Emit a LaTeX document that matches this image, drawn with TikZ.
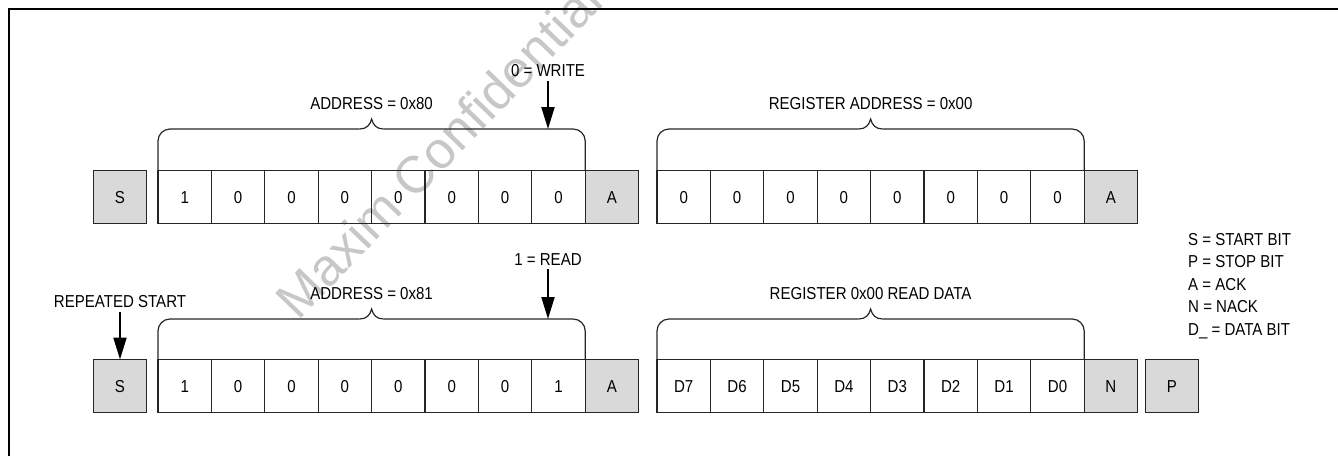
\documentclass[tikz,border=0pt]{standalone}
\usepackage{fontspec}
\setmainfont{Liberation Sans}[FakeStretch=0.87]
\newfontfamily\wmfont{Liberation Sans}
\usetikzlibrary{arrows.meta}
\newcommand{\grpbrace}[4]{%
  \pgfmathsetmacro{\xm}{(#1+#2)/2}%
  \draw[brace, rounded corners=12pt] (#1,#4) -- (#1,#3) -- ({\xm-12},#3);
  \draw[brace, rounded corners=12pt] (#2,#4) -- (#2,#3) -- ({\xm+12},#3);
  \draw[brace] ({\xm-12},#3) .. controls ({\xm-5},#3) and ({\xm-1.5},{#3-4}) .. (\xm,{#3-10})
     .. controls ({\xm+1.5},{#3-4}) and ({\xm+5},#3) .. ({\xm+12},#3);
}
\begin{document}
\begin{tikzpicture}[x=1pt,y=-1pt,
  font=\fontsize{17.3}{20}\selectfont,
  bitbox/.style={draw=black!85, line width=1.3pt, minimum width=53.4pt, minimum height=53pt, inner sep=0pt, outer sep=0pt, text height=12.4pt, text depth=0pt},
  graybox/.style={bitbox, fill=black!15},
  brace/.style={draw=black!85, line width=1.2pt},
  marker/.style={line width=2pt, -{Triangle[length=22pt,width=13pt]}},
  lbl/.style={anchor=base, inner sep=0pt},
  legend/.style={anchor=base west, inner sep=0pt},
]
\useasboundingbox (0,0) rectangle (1338,456);
% watermark
\node[anchor=base west, rotate=46, text=black!22, font=\wmfont\fontsize{52}{54}\selectfont, inner sep=0pt] (wm) at (298,322) {Maxim Confidential};
% frame
\draw[line width=2pt] (9,456) -- (9,9) -- (1338,9);
% row 1
\node[graybox] (s1) at (120,197) {S};
\foreach \v [count=\i from 0] in {1,0,0,0,0,0,0,0}
  \node[bitbox] (a\i) at ({158+53.4*(\i+0.5)},197) {\v};
\node[graybox] (ack1) at ({158+53.4*8.5},197) {A};
\foreach \v [count=\i from 0] in {0,0,0,0,0,0,0,0}
  \node[bitbox] (r\i) at ({657+53.4*(\i+0.5)},197) {\v};
\node[graybox] (ack2) at ({657+53.4*8.5},197) {A};
% row 2
\node[graybox] (s2) at (120,386) {S};
\foreach \v [count=\i from 0] in {1,0,0,0,0,0,0,1}
  \node[bitbox] (b\i) at ({158+53.4*(\i+0.5)},386) {\v};
\node[graybox] (ack3) at ({158+53.4*8.5},386) {A};
\foreach \v [count=\i from 0] in {D7,D6,D5,D4,D3,D2,D1,D0}
  \node[bitbox] (d\i) at ({657+53.4*(\i+0.5)},386) {\v};
\node[graybox] (nack) at ({657+53.4*8.5},386) {N};
\node[graybox] (stop) at (1172,386) {P};
% braces
\grpbrace{158}{585.2}{129}{170.5}
\grpbrace{657}{1084.2}{129}{170.5}
\grpbrace{158}{585.2}{319}{359.5}
\grpbrace{657}{1084.2}{319}{359.5}
% brace labels
\node[lbl] (l1) at (371.6,109.5) {ADDRESS = 0x80};
\node[lbl] (l2) at (870.6,109.5) {REGISTER ADDRESS = 0x00};
\node[lbl] (l3) at (371.6,299.5) {ADDRESS = 0x81};
\node[lbl] (l4) at (870.6,299.5) {REGISTER 0x00 READ DATA};
% arrows
\node[lbl] (w) at (548,76) {0 = WRITE};
\coordinate (wt) at (548,129);
\draw[marker] ([yshift=-5pt]w.south) -- (wt);
\node[lbl] (rd) at (548,265) {1 = READ};
\coordinate (rt) at (548,319);
\draw[marker] ([yshift=-4pt]rd.south) -- (rt);
\node[lbl] (rs) at (120,307) {REPEATED START};
\draw[marker] ([yshift=-4.5pt]rs.south) -- (s2.north);
% legend
\node[legend] (g1) at (1188,245) {S = START BIT};
\node[legend] (g2) at (1188,267.5) {P = STOP BIT};
\node[legend] (g3) at (1188,290) {A = ACK};
\node[legend] (g4) at (1188,312.5) {N = NACK};
\node[legend] (g5) at (1188,335) {D\_ = DATA BIT};
\end{tikzpicture}
\end{document}
